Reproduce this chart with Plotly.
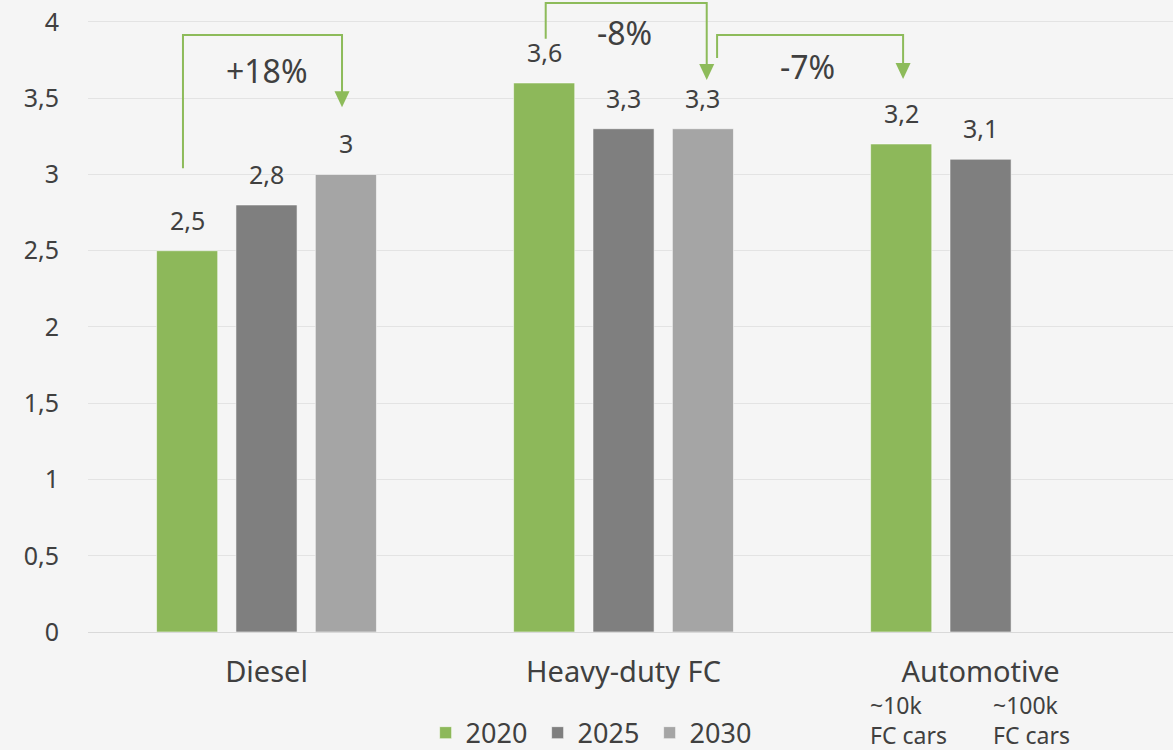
import plotly.graph_objects as go

categories = ["Diesel", "Heavy-duty FC", "Automotive"]
years = ["2020", "2025", "2030"]
v2020 = [2.5, 3.6, 3.2]
v2025 = [2.8, 3.3, 3.1]
v2030 = [3.0, 3.3, None]
series = [v2020, v2025, v2030]
colors = ["#8db85a", "#7f7f7f", "#a5a5a5"]

changes = ["+18%", "-8%", "-7%"]
auto_sub = ["~10k<br>FC cars", "~100k<br>FC cars"]

TXT = "#404040"
FONT = "Noto Sans"
GREEN = "#8dbb5a"

fig = go.Figure()
for name, vals, col in zip(years, series, colors):
    fig.add_trace(go.Bar(
        x=categories, y=vals, name=name,
        marker=dict(color=col, line=dict(color="rgba(255,255,255,0.55)", width=1)),
        hoverinfo="skip",
    ))

slot = (1 - 0.333) / 3
annotations = []
# value labels above bars
for k, vals in enumerate(series):
    for i, v in enumerate(vals):
        if v is None:
            continue
        annotations.append(dict(
            x=i + (k - 1) * slot, y=v, xref="x", yref="y",
            text=f"{v:g}".replace(".", ","), showarrow=False,
            yanchor="middle", yshift=31,
            font=dict(family=FONT, size=25, color=TXT),
        ))

# change labels
change_pos = [(0.0, 3.685), (1.004, 3.928), (1.514, 3.71)]
for t, (x, y) in zip(changes, change_pos):
    annotations.append(dict(
        x=x, y=y, xref="x", yref="y", text=t, showarrow=False,
        xanchor="center", yanchor="middle",
        font=dict(family=FONT, size=32, color=TXT),
    ))

# automotive sub labels
for t, x in zip(auto_sub, [1.684, 2.029]):
    annotations.append(dict(
        x=x, y=-0.087, xref="x", yref="paper", text=t, showarrow=False,
        xanchor="left", yanchor="top", align="left",
        font=dict(family=FONT, size=23, color=TXT),
    ))

shapes = []
arrows = [
    # x_start, y_start, y_top, x_end, y_tip
    (-0.234, 3.04, 3.915, 0.2115, 3.44),
    (0.782, 3.89, 4.125, 1.233, 3.62),
    (1.262, 3.764, 3.915, 1.783, 3.626),
]
for xs, ys, yt, xe, ytip in arrows:
    shapes.append(dict(
        type="path", xref="x", yref="y",
        path=f"M {xs},{ys} L {xs},{yt} L {xe},{yt} L {xe},{ytip + 0.05}",
        line=dict(color=GREEN, width=2),
    ))
    shapes.append(dict(
        type="path", xref="x", yref="y",
        xsizemode="pixel", ysizemode="pixel", xanchor=xe, yanchor=ytip,
        path="M -7.5,16 L 7.5,16 L 0,0 Z",
        fillcolor=GREEN, line=dict(color=GREEN, width=0),
    ))

fig.update_layout(
    width=1173, height=750,
    margin=dict(l=88, r=0, t=0, b=118, autoexpand=False),
    paper_bgcolor="#f5f5f5", plot_bgcolor="#f5f5f5",
    barmode="group", bargap=0.333, bargroupgap=0.23,
    separators=", ",
    font=dict(family=FONT, color=TXT),
    showlegend=True,
    legend=dict(
        orientation="h", x=0.466, xanchor="center", y=-0.16, yanchor="middle",
        font=dict(family=FONT, size=27, color=TXT),
        itemwidth=30, entrywidth=67, entrywidthmode="pixels",
        bgcolor="rgba(0,0,0,0)",
    ),
    annotations=annotations,
    shapes=shapes,
)
fig.update_xaxes(
    type="category", range=[-0.5, 2.539],
    showgrid=False, showline=False, ticks="",
    tickfont=dict(family=FONT, size=29, color=TXT),
    ticklabelstandoff=20,
)
fig.update_yaxes(
    range=[0, 4.144], tick0=0, dtick=0.5,
    showgrid=True, gridcolor="#e3e3e3", gridwidth=1,
    zeroline=True, zerolinecolor="#d9d9d9", zerolinewidth=1,
    showline=False, ticks="",
    tickfont=dict(family=FONT, size=25, color=TXT),
    ticklabelstandoff=28,
)

fig.write_html(
    "out.html",
    config={"displayModeBar": False},
    post_script="document.body.style.margin='0';document.body.style.background='#f5f5f5';",
)
